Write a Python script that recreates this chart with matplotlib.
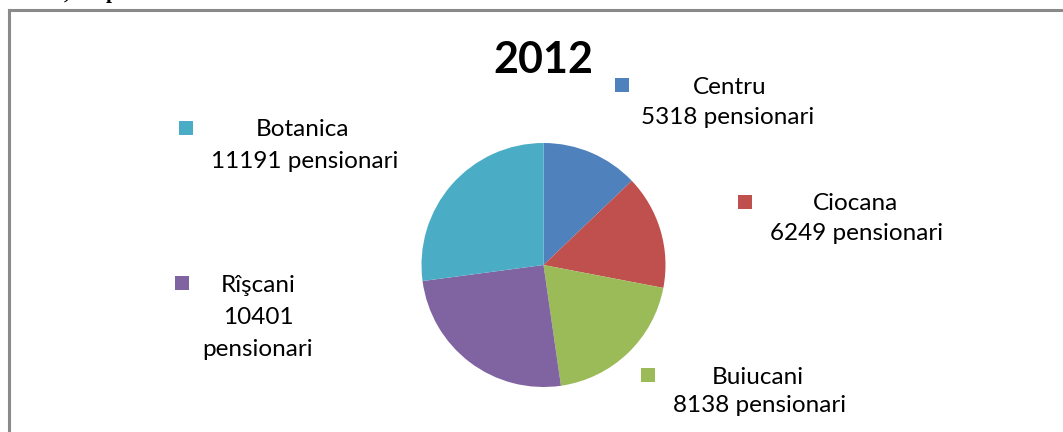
import matplotlib
matplotlib.use("Agg")
import matplotlib.pyplot as plt
from matplotlib.patches import Rectangle
from matplotlib.lines import Line2D

# ---- data ----
title = "2012"
districts = ["Centru", "Ciocana", "Buiucani", "Rîşcani", "Botanica"]
pensioners = [5318, 6249, 8138, 10401, 11191]
unit = "pensionari"
colors = ["#4F81BD", "#C0504D", "#9BBB59", "#8064A2", "#4BACC6"]

W, H = 1063, 432
DPI = 100
fig = plt.figure(figsize=(W / DPI, H / DPI), dpi=DPI)
fig.patch.set_facecolor("white")

FONT = "Lato"

def fx(px):
    return px / W

def fy(py):
    return 1 - py / H

# frame of the embedded chart
fig.add_artist(Line2D([fx(8.5), fx(8.5)], [fy(9.5), fy(440)], color="#8a8a8a", lw=2.2,
                      transform=fig.transFigure))
fig.add_artist(Line2D([fx(8.5), fx(1070)], [fy(9.5), fy(9.5)], color="#8a8a8a", lw=2.2,
                      transform=fig.transFigure))

# truncated document text above the chart (only its lowest part is visible)
fig.text(fx(64), fy(-1.5), ",", fontsize=15, fontweight="bold", family="Liberation Serif",
         va="baseline", ha="left")
fig.text(fx(106), fy(-1.5), "p", fontsize=15, fontweight="bold", family="Liberation Serif",
         va="baseline", ha="left")

# pie
cx, cy, r = 543.5, 265, 122
ax = fig.add_axes([fx(cx - r), fy(cy + r), (2 * r) / W, (2 * r) / H])
ax.pie(pensioners, colors=colors, startangle=90, counterclock=False, radius=1,
       wedgeprops=dict(linewidth=0))
ax.set_xlim(-1, 1)
ax.set_ylim(-1, 1)
ax.set_aspect("equal")
ax.axis("off")

# title
fig.text(fx(543), fy(60), title, fontsize=31, fontweight="bold", family=FONT,
         ha="center", va="center")

# labels: (square x, square y, list of (text center x, y))
label_layout = [
    (622, 85, [(730, 87), (728, 118)]),
    (745, 202, [(855, 203), (857, 233)]),
    (648, 375, [(758, 377), (760, 406)]),
    (182, 283, [(258, 285), (258, 318), (258, 350)]),
    (186, 128, [(303, 130), (305, 162)]),
]

for i, (sx, sy, lines) in enumerate(label_layout):
    name = districts[i]
    val = pensioners[i]
    if len(lines) == 2:
        texts = [name, f"{val} {unit}"]
    else:
        texts = [name, f"{val}", unit]
    s = 14
    fig.add_artist(Rectangle((fx(sx - s / 2), fy(sy + s / 2)), s / W, s / H,
                             facecolor=colors[i], edgecolor="none",
                             transform=fig.transFigure))
    for (tx, ty), t in zip(lines, texts):
        fig.text(fx(tx), fy(ty), t, fontsize=17.5, family=FONT, ha="center", va="center",
                 color="#000000")

fig.savefig("out.png", dpi=DPI)
